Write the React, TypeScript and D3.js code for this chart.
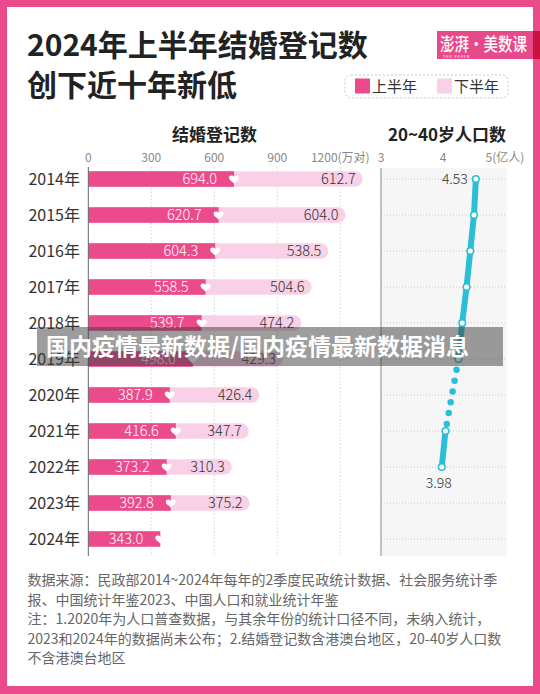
import React from "react";
import * as d3 from "d3";

const years = ["2014年", "2015年", "2016年", "2017年", "2018年", "2019年", "2020年", "2021年", "2022年", "2023年", "2024年"];
const firstHalf = [694.0, 620.7, 604.3, 558.5, 539.7, 498.0, 387.9, 416.6, 373.2, 392.8, 343.0];
const secondHalf: (number | null)[] = [612.7, 604.0, 538.5, 504.6, 474.2, 429.3, 426.4, 347.7, 310.3, 375.2, null];
const population: (number | null)[] = [4.53, 4.5, 4.44, 4.38, 4.31, 4.25, null, 4.04, 3.98, null, null];
const barTicks = [0, 300, 600, 900, 1200];
const barTickLabels = ["0", "300", "600", "900", "1200(万对)"];
const popTicks = [3, 4, 5];
const popTickLabels = ["3", "4", "5(亿人)"];
const footnotes = [
  "数据来源：民政部2014~2024年每年的2季度民政统计数据、社会服务统计季",
  "报、中国统计年鉴2023、中国人口和就业统计年鉴",
  "注：1.2020年为人口普查数据，与其余年份的统计口径不同，未纳入统计，",
  "2023和2024年的数据尚未公布；2.结婚登记数含港澳台地区，20-40岁人口数",
  "不含港澳台地区",
];

const PINK = "#EB4B8B";
const LIGHT = "#F9D1E6";
const CYAN = "#2BBED9";
const FONT = "'Noto Sans CJK SC', 'Noto Sans', sans-serif";

function heartPath(cx: number, cy: number, s: number) {
  const p = d3.path();
  p.moveTo(cx, cy + s * 0.85);
  p.bezierCurveTo(cx - s * 0.3, cy + s * 0.55, cx - s, cy + s * 0.15, cx - s, cy - s * 0.3);
  p.bezierCurveTo(cx - s, cy - s * 0.8, cx - s * 0.35, cy - s * 0.95, cx, cy - s * 0.45);
  p.bezierCurveTo(cx + s * 0.35, cy - s * 0.95, cx + s, cy - s * 0.8, cx + s, cy - s * 0.3);
  p.bezierCurveTo(cx + s, cy + s * 0.15, cx + s * 0.3, cy + s * 0.55, cx, cy + s * 0.85);
  p.closePath();
  return p.toString();
}

export default function App() {
  const W = 540, H = 694;
  const y = d3.scalePoint<string>().domain(years).range([179, 539]);
  const xBar = d3.scaleLinear().domain([0, 1200]).range([88.3, 340.3]);
  const xPop = d3.scaleLinear().domain([3, 5]).range([381, 505]);
  const barH = 15.6;

  const popPts = years.map((yr, i) => ({ yr, v: population[i] }));
  const line = d3
    .line<{ yr: string; v: number | null }>()
    .defined((d) => d.v != null)
    .x((d) => xPop(d.v as number))
    .y((d) => y(d.yr) as number);
  const solidPath = line(popPts) || "";
  const gapIdx = population.findIndex((v, i) => v == null && i > 0 && population[i - 1] != null && population[i + 1] != null);
  const dottedPath = gapIdx > 0 ? line.defined(() => true)([popPts[gapIdx - 1], popPts[gapIdx + 1]]) || "" : "";

  const firstPop = popPts.find((d) => d.v != null)!;
  const lastPop = [...popPts].reverse().find((d) => d.v != null)!;

  return (
    <svg width={W} height={H} style={{ position: "absolute", left: 0, top: 0 }} fontFamily={FONT}>
      <rect x={0} y={0} width={W} height={H} fill={PINK} />
      <rect x={7} y={7} width={526} height={679} fill="#fff" />

      {/* logo */}
      <rect x={437} y={31} width={96} height={28} fill="#E8498A" />
      <rect x={533} y={31} width={7} height={28} fill="#C8123F" />
      <text x={440} y={51} fill="#fff" fontSize={18} fontWeight={500} textLength={87} lengthAdjust="spacingAndGlyphs">澎湃·美数课</text>
      <text x={443} y={57.5} fill="#fff" fontSize={3.5} letterSpacing={1}>THE PAPER</text>

      {/* title */}
      <text x={27} y={56} fontSize={30} fontWeight={700} fill="#222">2024年上半年结婚登记数</text>
      <text x={27} y={96} fontSize={30} fontWeight={700} fill="#222">创下近十年新低</text>

      {/* legend */}
      <rect x={345} y={75} width={163} height={23} rx={6} fill="#fff" stroke="#c8c8c8" strokeDasharray="2 2" />
      <rect x={355} y={78.5} width={15} height={15} fill={PINK} />
      <text x={372} y={92} fontSize={15} fill="#333">上半年</text>
      <rect x={437} y={78.5} width={15} height={15} fill={LIGHT} />
      <text x={454} y={92} fontSize={15} fill="#333">下半年</text>

      {/* subtitles */}
      <text x={214.5} y={141} textAnchor="middle" fontSize={17} fontWeight={700} fill="#222">结婚登记数</text>
      <text x={447} y={141} textAnchor="middle" fontSize={17} fontWeight={700} fill="#222">20~40岁人口数</text>

      {/* ticks */}
      {barTicks.map((t, i) => (
        <text key={"bt" + i} x={xBar(t)} y={161.5} textAnchor="middle" fontSize={12} fill="#888">{barTickLabels[i]}</text>
      ))}
      {popTicks.map((t, i) => (
        <text key={"pt" + i} x={xPop(t)} y={161.5} textAnchor="middle" fontSize={12} fill="#888">{popTickLabels[i]}</text>
      ))}

      {/* bar grid */}
      {barTicks.slice(1).map((t) => (
        <line key={"bg" + t} x1={xBar(t)} x2={xBar(t)} y1={167} y2={556} stroke="#d6d6d6" strokeDasharray="1.5 2" />
      ))}

      {/* pop panel bg */}
      <rect x={381} y={168} width={126} height={388} fill="#F6F6F6" />
      {years.map((yr) => (
        <line key={"pg" + yr} x1={381} x2={507} y1={y(yr)} y2={y(yr)} stroke="#c8c8c8" strokeDasharray="1 2" />
      ))}
      <line x1={381} x2={381} y1={168} y2={556} stroke="#888" strokeWidth={1} />

      {/* bars */}
      {years.map((yr, i) => {
        const cy = y(yr) as number;
        const f = firstHalf[i];
        const s = secondHalf[i];
        const xf = xBar(f);
        const total = s != null ? xBar(f + s) : xf;
        return (
          <g key={"bar" + yr}>
            {s != null && (
              <rect x={xBar(0)} y={cy - barH / 2} width={total - xBar(0)} height={barH} rx={barH / 2} fill={LIGHT} />
            )}
            <rect x={xBar(0)} y={cy - barH / 2} width={xf - xBar(0)} height={barH} fill={PINK} />
            <path d={heartPath(xf, cy + 0.3, 5)} fill="#fff" />
            <text x={xf - 17} y={cy + 5} textAnchor="end" fontSize={14.5} fontWeight={300} fill="#fff">{f.toFixed(1)}</text>
            {s != null && (
              <text x={total - 7} y={cy + 5} textAnchor="end" fontSize={14.5} fontWeight={300} fill="#333">{s.toFixed(1)}</text>
            )}
            <text x={80} y={cy + 6} textAnchor="end" fontSize={16} fill="#333">{yr}</text>
          </g>
        );
      })}
      <line x1={xBar(0)} x2={xBar(0)} y1={167} y2={556} stroke="#666" strokeWidth={1} />

      {/* population line */}
      <path d={solidPath} fill="none" stroke={CYAN} strokeWidth={6} strokeLinecap="round" strokeLinejoin="round" />
      <path d={dottedPath} fill="none" stroke={CYAN} strokeWidth={6.5} strokeLinecap="round" strokeDasharray="0 11" />
      {popPts.filter((d) => d.v != null).map((d) => (
        <circle key={"pc" + d.yr} cx={xPop(d.v as number)} cy={y(d.yr)} r={3.3} fill="#fff" stroke={CYAN} strokeWidth={1.6} />
      ))}
      <text x={xPop(firstPop.v as number) - 8} y={(y(firstPop.yr) as number) + 5} textAnchor="end" fontSize={14} fontWeight={300} fill="#333">{(firstPop.v as number).toFixed(2)}</text>
      <text x={xPop(lastPop.v as number) - 3} y={(y(lastPop.yr) as number) + 21} textAnchor="middle" fontSize={14} fontWeight={300} fill="#333">{(lastPop.v as number).toFixed(2)}</text>

      {/* footnotes */}
      {footnotes.map((t, i) => (
        <text key={"fn" + i} x={27.5} y={585 + i * 19.5} fontSize={14} fill="#666">{t}</text>
      ))}

      {/* watermark overlay */}
      <rect x={37} y={327} width={466} height={39} fill="rgba(60,60,60,0.5)" />
      <text x={46} y={355} fontSize={23} fontWeight={700} fill="#fff">国内疫情最新数据/国内疫情最新数据消息</text>
    </svg>
  );
}
